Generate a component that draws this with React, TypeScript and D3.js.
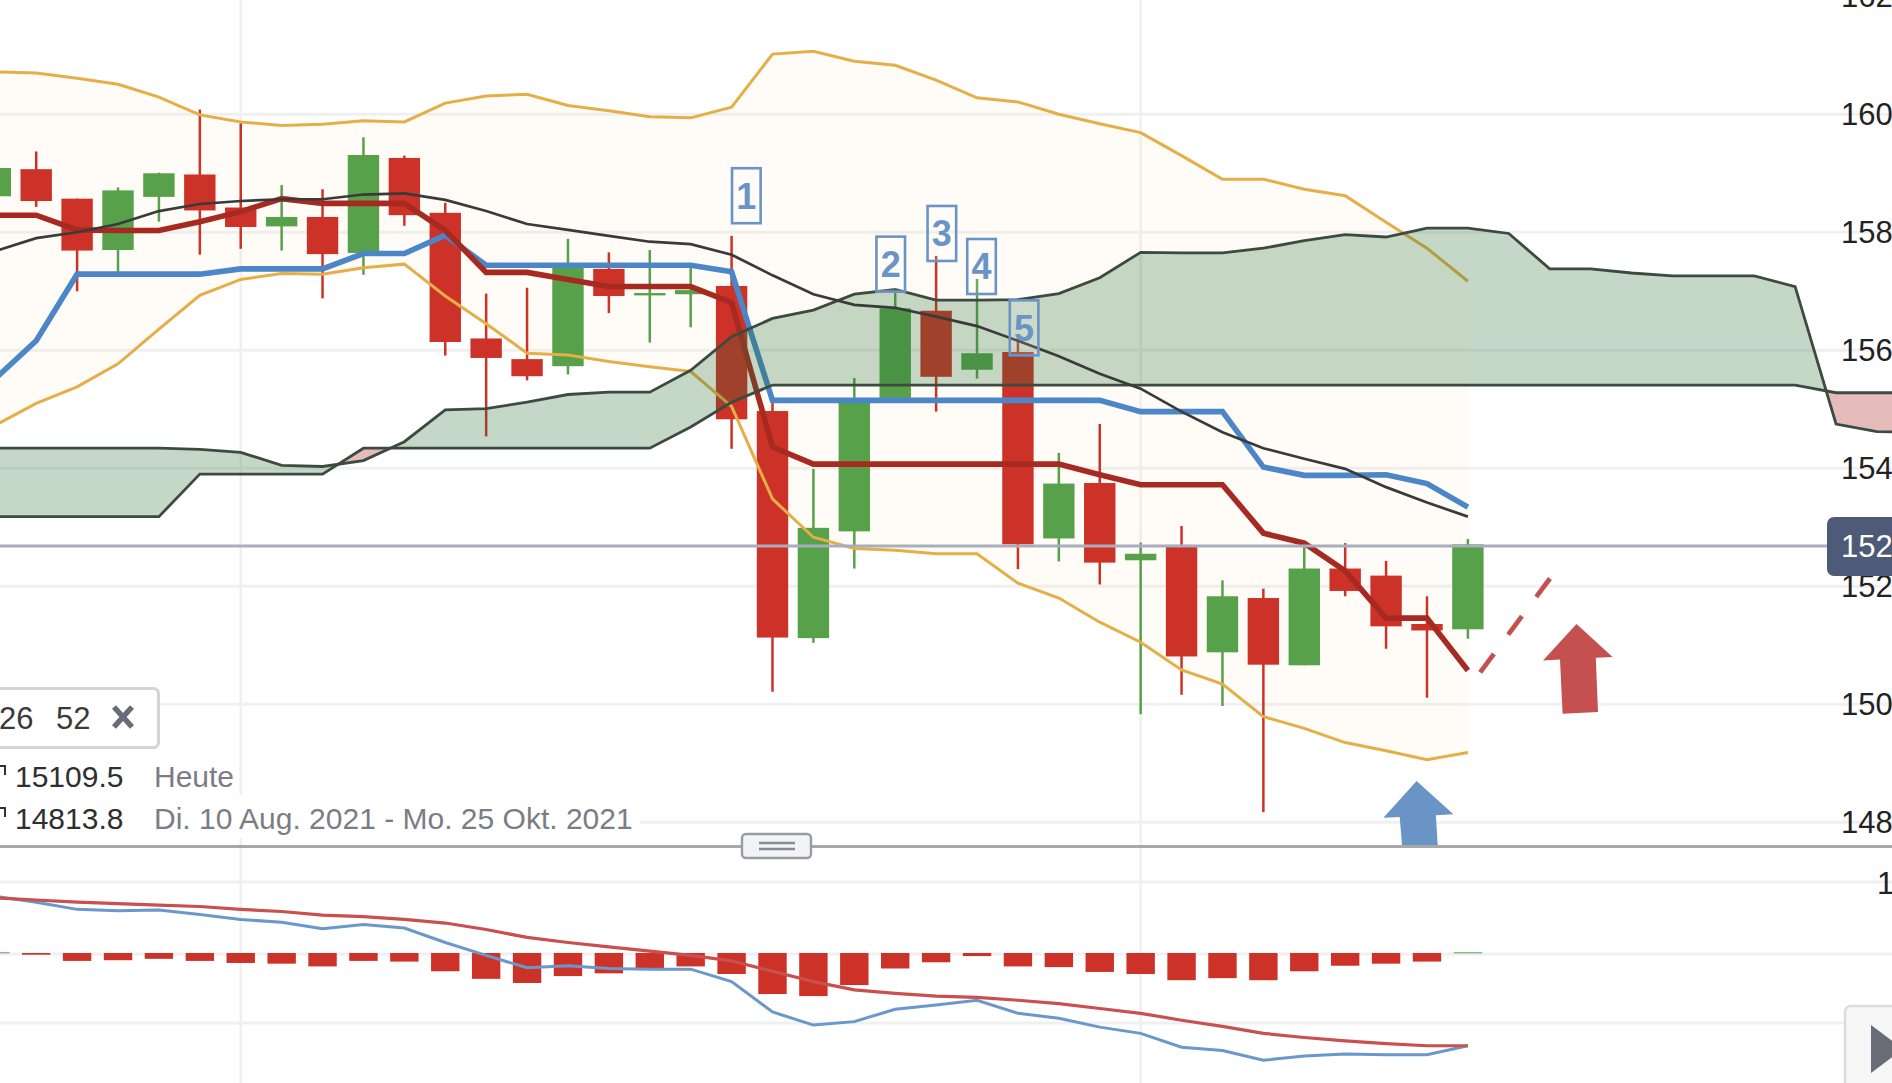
import React from 'react';
import * as d3 from 'd3';

const W = 1892, H = 1083;
const FONT = '"Liberation Sans", Arial, sans-serif';

// All candle-based series start at session index -1
const opens = [158.61,159.07,158.57,157.70,158.60,158.98,158.42,158.10,158.26,157.65,159.26,158.33,156.20,155.85,155.73,157.38,156.93,156.95,157.09,154.97,151.12,152.93,155.17,156.67,155.67,155.97,152.81,153.75,152.44,152.70,150.88,151.80,150.66,152.30,152.18,151.36,151.27];
const closes = [159.09,158.53,157.69,158.71,159.00,158.37,158.09,158.26,157.63,159.31,158.29,156.14,155.87,155.56,157.44,156.92,156.97,157.02,154.83,151.13,152.99,155.14,156.71,155.55,155.95,152.71,153.74,152.40,152.55,150.81,151.83,150.67,152.30,151.92,151.32,151.25,152.71];
const highs = [159.09,159.37,158.57,158.76,159.01,160.08,159.85,158.80,158.73,159.61,159.30,158.50,156.96,157.06,157.89,157.66,157.70,157.44,157.94,155.22,153.99,155.53,156.97,157.60,157.21,156.25,154.26,154.75,152.74,153.02,152.10,151.96,152.67,152.73,152.43,151.83,152.80];
const lows = [158.61,158.43,157.00,157.30,158.18,157.62,157.72,157.69,156.88,157.28,158.11,155.91,154.54,155.49,155.59,156.63,156.13,156.39,154.33,150.21,151.04,152.30,155.14,154.96,155.52,152.29,152.42,152.03,149.83,150.16,149.97,148.17,150.66,151.83,150.94,150.11,151.11];

const bollUpper = [160.72,160.70,160.61,160.51,160.29,159.99,159.87,159.81,159.83,159.89,159.87,160.19,160.31,160.34,160.15,160.06,159.96,159.94,160.12,161.02,161.07,160.90,160.83,160.58,160.28,160.21,160.00,159.84,159.69,159.30,158.90,158.90,158.73,158.62,158.17,157.73,157.17];
const bollLower = [154.73,155.10,155.38,155.77,156.36,156.93,157.20,157.30,157.29,157.40,157.46,156.92,156.45,155.95,155.92,155.81,155.72,155.64,155.05,153.48,152.83,152.64,152.61,152.55,152.55,152.05,151.80,151.39,151.05,150.58,150.34,149.79,149.59,149.35,149.21,149.06,149.18];
const kijun = [155.52,156.16,157.29,157.29,157.29,157.29,157.38,157.38,157.38,157.64,157.64,157.95,157.44,157.44,157.44,157.44,157.44,157.44,157.33,155.15,155.15,155.15,155.15,155.15,155.15,155.15,155.15,155.15,154.96,154.96,154.96,154.02,153.88,153.88,153.89,153.74,153.34];
const tenkan = [158.29,158.29,158.04,158.03,158.03,158.18,158.35,158.57,158.49,158.49,158.49,158.03,157.32,157.32,157.20,157.08,157.08,157.08,156.81,154.36,154.07,154.07,154.07,154.07,154.07,154.07,154.07,153.89,153.72,153.72,153.72,152.90,152.73,152.26,151.46,151.46,150.57];
const sma = [157.68,157.90,158.00,158.14,158.36,158.48,158.53,158.56,158.56,158.64,158.66,158.55,158.36,158.14,158.04,157.94,157.84,157.80,157.62,157.27,156.95,156.77,156.72,156.57,156.41,156.16,155.90,155.60,155.35,154.96,154.61,154.34,154.16,153.99,153.68,153.42,153.18];

// Cloud spans run from index -1 to 46
const spanA = [154.34,154.34,154.34,154.34,154.34,154.32,154.27,154.05,154.03,154.13,154.45,154.99,155.01,155.12,155.25,155.29,155.29,155.66,156.23,156.54,156.68,156.95,157.03,156.85,156.85,156.86,156.96,157.23,157.66,157.65,157.65,157.73,157.86,157.96,157.92,158.07,158.07,157.98,157.38,157.38,157.31,157.26,157.26,157.26,157.08,154.75,154.62,154.61];
const spanB = [153.18,153.18,153.18,153.18,153.18,153.90,153.90,153.90,153.90,154.34,154.34,154.34,154.34,154.34,154.34,154.34,154.34,154.70,155.12,155.41,155.41,155.41,155.41,155.41,155.41,155.41,155.41,155.41,155.41,155.41,155.41,155.41,155.41,155.41,155.41,155.41,155.41,155.41,155.41,155.41,155.41,155.41,155.41,155.41,155.41,155.28,155.28,155.28];

const macd = [0.80,0.72,0.62,0.60,0.61,0.55,0.48,0.44,0.35,0.41,0.36,0.16,-0.02,-0.20,-0.17,-0.21,-0.22,-0.22,-0.40,-0.84,-1.03,-0.98,-0.80,-0.74,-0.67,-0.86,-0.93,-1.06,-1.15,-1.35,-1.40,-1.54,-1.48,-1.45,-1.46,-1.46,-1.33];
const signal = [0.78,0.75,0.72,0.70,0.68,0.66,0.62,0.59,0.54,0.52,0.48,0.43,0.34,0.23,0.16,0.10,0.04,-0.02,-0.10,-0.25,-0.40,-0.52,-0.57,-0.61,-0.63,-0.67,-0.72,-0.79,-0.86,-0.96,-1.05,-1.15,-1.21,-1.26,-1.30,-1.33,-1.33];
const histogram = [0.02,-0.01,-0.10,-0.09,-0.07,-0.10,-0.13,-0.14,-0.18,-0.10,-0.11,-0.25,-0.36,-0.42,-0.32,-0.28,-0.21,-0.18,-0.29,-0.58,-0.61,-0.45,-0.21,-0.12,-0.03,-0.18,-0.19,-0.26,-0.29,-0.38,-0.35,-0.38,-0.25,-0.17,-0.14,-0.11,0.02];

const priceTicks = [148,150,152,154,156,158,160,162];
const macdTicks = [1,0,-1];
const currentPrice = 152.68;
const gridSessions = [5,27];
const markers = [
  { label: '1', i: 17.36, price: 158.62 },
  { label: '2', i: 20.89, price: 157.46 },
  { label: '3', i: 22.14, price: 157.98 },
  { label: '4', i: 23.11, price: 157.42 },
  { label: '5', i: 24.15, price: 156.38 },
];
const dashedFrom = { i: 35.3, p: 150.54 };
const dashedTo = { i: 37.1, p: 152.22 };

const x = d3.scaleLinear().domain([0, 35]).range([36.2, 1467.9]);
const y = d3.scaleLinear().domain([148, 160]).range([822.2, 114.3]);
const ym = d3.scaleLinear().domain([1, 0, -1]).range([882, 954, 1023]);

const idx = (k: number) => k - 1;

const pathOf = (vals: number[], sc: (v: number) => number) =>
  d3.line<number>().x((_, k) => x(idx(k))).y(v => sc(v))(vals) || '';

const bollArea = d3.area<number>()
  .x((_, k) => x(idx(k)))
  .y0((_, k) => y(bollLower[k]))
  .y1(v => y(v))(bollUpper) || '';

// Insert the span crossings so the two cloud colours meet exactly
type CP = { i: number; a: number; b: number };
const cloudPts: CP[] = [];
spanA.forEach((a, k) => {
  const b = spanB[k];
  cloudPts.push({ i: idx(k), a, b });
  if (k < spanA.length - 1) {
    const d0 = a - b, d1 = spanA[k + 1] - spanB[k + 1];
    if (d0 * d1 < 0) {
      const t = d0 / (d0 - d1);
      const v = a + (spanA[k + 1] - a) * t;
      cloudPts.push({ i: idx(k) + t, a: v, b: v });
    }
  }
});
const greenCloud = d3.area<CP>().x(d => x(d.i)).y0(d => y(d.b)).y1(d => y(Math.max(d.a, d.b)))(cloudPts) || '';
const redCloud = d3.area<CP>().x(d => x(d.i)).y0(d => y(d.a)).y1(d => y(Math.max(d.a, d.b)))(cloudPts) || '';

const RED = '#cd3228', GREEN = '#57a14a', BLUE_MARK = '#6a94c6', RED_MARK = '#c4504f';
const GRID = '#f0f0f2';

export default function App() {
  return (
    <svg width={W} height={H} viewBox={`0 0 ${W} ${H}`}
      style={{ position: 'fixed', left: 0, top: 0, background: '#fff', fontFamily: FONT }}>
      {/* grid */}
      {priceTicks.map(t => (
        <line key={t} x1={0} x2={W} y1={y(t)} y2={y(t)} stroke={GRID} strokeWidth={3} />
      ))}
      {macdTicks.map(t => (
        <line key={t} x1={0} x2={W} y1={ym(t)} y2={ym(t)} stroke={GRID} strokeWidth={3} />
      ))}
      {gridSessions.map(s => (
        <line key={s} x1={x(s)} x2={x(s)} y1={0} y2={H} stroke={GRID} strokeWidth={2.5} />
      ))}

      {/* Bollinger band */}
      <path d={bollArea} fill="#ffb43c" fillOpacity={0.04} />

      {/* candles */}
      {opens.map((o, k) => {
        const c = closes[k];
        const col = c >= o ? GREEN : RED;
        const top = y(Math.max(o, c)), bot = y(Math.min(o, c));
        const cx = x(idx(k));
        return (
          <g key={k}>
            <line x1={cx} x2={cx} y1={y(highs[k])} y2={y(lows[k])} stroke={col} strokeWidth={2.5} />
            <rect x={cx - 15.7} width={31.4} y={top} height={Math.max(bot - top, 1)} fill={col} />
          </g>
        );
      })}

      {/* overlays */}
      <path d={pathOf(bollUpper, y)} fill="none" stroke="#e6ae46" strokeWidth={3} />
      <path d={pathOf(bollLower, y)} fill="none" stroke="#e6ae46" strokeWidth={3} />
      <path d={pathOf(kijun, y)} fill="none" stroke="#4a86c8" strokeWidth={5.6} />
      <path d={pathOf(tenkan, y)} fill="none" stroke="#a72a22" strokeWidth={5.6} />

      {/* cloud */}
      <path d={greenCloud} fill="rgb(40,110,50)" fillOpacity={0.27} />
      <path d={redCloud} fill="rgb(170,30,30)" fillOpacity={0.3} />
      <path d={pathOf(spanA, y)} fill="none" stroke="#3c4a40" strokeWidth={2.8} />
      <path d={pathOf(spanB, y)} fill="none" stroke="#3c4a40" strokeWidth={2.8} />
      <path d={pathOf(sma, y)} fill="none" stroke="#3a3a3a" strokeWidth={2.7} />

      {/* current price */}
      <line x1={0} x2={W} y1={y(currentPrice)} y2={y(currentPrice)} stroke="#a9aebf" strokeWidth={3} />

      {/* number markers */}
      {markers.map(m => {
        const cx = x(m.i), cy = y(m.price);
        return (
          <g key={m.label}>
            <rect x={cx - 14.3} y={cy - 27.5} width={28.6} height={55} fill="#ffffff" fillOpacity={0.12}
              stroke={BLUE_MARK} strokeWidth={2.6} />
            <text x={cx} y={cy + 13} textAnchor="middle" fontSize={36} fontWeight={700} fill={BLUE_MARK}>{m.label}</text>
          </g>
        );
      })}

      {/* hand drawn annotations */}
      <line x1={x(dashedFrom.i)} y1={y(dashedFrom.p)} x2={x(dashedTo.i)} y2={y(dashedTo.p)}
        stroke={RED_MARK} strokeWidth={4.8} strokeDasharray="23 24" />
      <polygon points="1576.5,624 1612.6,657 1595.8,657.7 1598,712 1562.6,713.8 1560,659.5 1543,660.5" fill={RED_MARK} />
      <polygon points="1416.6,781 1453.4,814.3 1435.9,815.3 1437.7,845 1402,845 1399.7,817 1383.4,817.7" fill={BLUE_MARK} />

      {/* legend area */}
      <rect x={0} y={795} width={640} height={43} fill="#fff" fillOpacity={0.95} />
      <rect x={-10} y={688.5} width={168.5} height={59} rx={5} fill="#fff" stroke="#d4d4d6" strokeWidth={3} />
      <text x={-1} y={729} fontSize={31} fill="#3a3a3a">26</text>
      <text x={56} y={729} fontSize={31} fill="#3a3a3a">52</text>
      <path d="M114,707 L132,727 M132,707 L114,727" stroke="#6b6b78" strokeWidth={5.5} fill="none" />
      <path d="M0,766 H6 M5,766 V775" stroke="#333" strokeWidth={2} fill="none" />
      <path d="M0,808 H6 M5,808 V817" stroke="#333" strokeWidth={2} fill="none" />
      <text x={15} y={786.5} fontSize={30} fill="#2f2f2f">15109.5</text>
      <text x={154} y={786.5} fontSize={30} fill="#7b7d85">Heute</text>
      <text x={15} y={828.5} fontSize={30} fill="#2f2f2f">14813.8</text>
      <text x={154} y={828.5} fontSize={30} fill="#7b7d85">Di. 10 Aug. 2021 - Mo. 25 Okt. 2021</text>

      {/* pane divider */}
      <line x1={0} x2={W} y1={846.5} y2={846.5} stroke="#a8a8a8" strokeWidth={2.8} />
      <rect x={742} y={834} width={69} height={24} rx={4} fill="#f2f3f7" stroke="#9a9aa0" strokeWidth={2.4} />
      <path d="M759,843 H795 M759,849 H795" stroke="#8a8a92" strokeWidth={2.4} />

      {/* MACD */}
      {histogram.map((v, k) => {
        const cx = x(idx(k));
        const zero = 953;
        if (v >= 0) {
          return <rect key={k} x={cx - 14.2} width={28.4} y={zero - 1} height={1.4} fill={GREEN} fillOpacity={0.7} />;
        }
        return <rect key={k} x={cx - 14.2} width={28.4} y={zero} height={ym(v) - zero} fill={RED} />;
      })}
      <path d={pathOf(macd, ym)} fill="none" stroke="#6a97cc" strokeWidth={3} />
      <path d={pathOf(signal, ym)} fill="none" stroke="#c9504e" strokeWidth={3.2} />

      {/* price axis */}
      {priceTicks.map(t => (
        <text key={t} x={1841} y={y(t) + 10.5} fontSize={31} fill="#222">{t}</text>
      ))}
      <rect x={1827} y={517} width={90} height={59} rx={7} fill="#4d5b78" />
      <text x={1841} y={557} fontSize={31} fill="#fff">{currentPrice.toFixed(2)}</text>
      <text x={1877} y={894} fontSize={31} fill="#222">1</text>

      {/* next button */}
      <rect x={1845} y={1006} width={70} height={95} rx={6} fill="#f6f6f7" stroke="#dcdcde" strokeWidth={2.5} />
      <polygon points="1871,1025 1903,1049 1871,1073" fill="#6b6b78" />
    </svg>
  );
}
